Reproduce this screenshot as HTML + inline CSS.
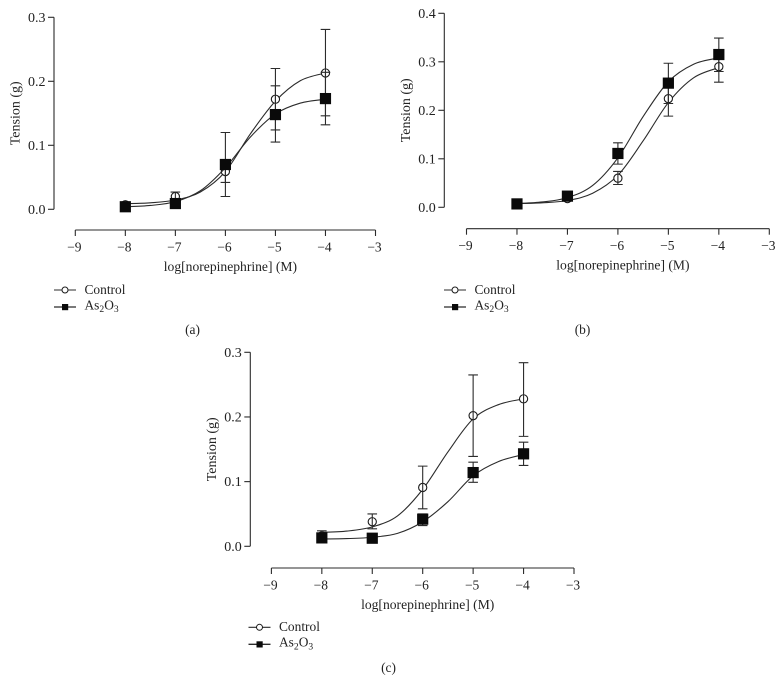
<!DOCTYPE html>
<html>
<head>
<meta charset="utf-8">
<title>Tension vs log[norepinephrine]</title>
<style>
html,body{margin:0;padding:0;background:#fff;width:780px;height:682px;overflow:hidden}
svg{display:block;filter:blur(0.3px)}
text{font-family:"Liberation Serif",serif;fill:#222}
</style>
</head>
<body>
<svg id="figure" xmlns="http://www.w3.org/2000/svg" width="780" height="682" viewBox="0 0 780 682"></svg>
<script>
// ----- shared axis data -----
const doses = [-8, -7, -6, -5, -4];
const xTicks = [-9, -8, -7, -6, -5, -4, -3];
const curveDoses = [-8, -7.5, -7, -6.5, -6, -5.5, -5, -4.5, -4];

// ----- panel (a) -----
const yTicksA = [0, 0.1, 0.2, 0.3];
const controlA = [0.007, 0.020, 0.059, 0.172, 0.213];
const controlUpperA = [0.010, 0.027, 0.076, 0.220, 0.281];
const controlLowerA = [0.004, 0.013, 0.042, 0.124, 0.146];
const arsenicA = [0.004, 0.009, 0.070, 0.148, 0.173];
const arsenicUpperA = [0.006, 0.012, 0.120, 0.193, 0.214];
const arsenicLowerA = [0.002, 0.006, 0.020, 0.105, 0.132];
const controlCurveA = [0.0087, 0.0101, 0.0145, 0.027, 0.059, 0.118, 0.169, 0.201, 0.213];
const arsenicCurveA = [0.004, 0.006, 0.012, 0.029, 0.065, 0.113, 0.149, 0.166, 0.172];

// ----- panel (b) -----
const yTicksB = [0, 0.1, 0.2, 0.3, 0.4];
const controlB = [0.007, 0.018, 0.060, 0.224, 0.290];
const controlUpperB = [0.010, 0.021, 0.074, 0.260, 0.312];
const controlLowerB = [0.004, 0.015, 0.047, 0.188, 0.258];
const arsenicB = [0.007, 0.023, 0.111, 0.256, 0.315];
const arsenicUpperB = [0.010, 0.027, 0.133, 0.297, 0.349];
const arsenicLowerB = [0.004, 0.019, 0.089, 0.214, 0.280];
const controlCurveB = [0.0077, 0.0093, 0.014, 0.029, 0.066, 0.137, 0.216, 0.267, 0.288];
const arsenicCurveB = [0.0077, 0.011, 0.020, 0.045, 0.102, 0.187, 0.259, 0.295, 0.308];

// ----- panel (c) -----
const yTicksC = [0, 0.1, 0.2, 0.3];
const controlC = [0.016, 0.038, 0.091, 0.202, 0.228];
const controlUpperC = [0.024, 0.050, 0.124, 0.265, 0.284];
const controlLowerC = [0.009, 0.027, 0.058, 0.139, 0.170];
const arsenicC = [0.013, 0.0125, 0.042, 0.114, 0.143];
const arsenicUpperC = [0.019, 0.017, 0.050, 0.130, 0.161];
const arsenicLowerC = [0.008, 0.009, 0.032, 0.099, 0.125];
const controlCurveC = [0.0215, 0.0235, 0.030, 0.047, 0.088, 0.146, 0.197, 0.219, 0.228];
const arsenicCurveC = [0.0113, 0.0119, 0.014, 0.020, 0.038, 0.069, 0.109, 0.131, 0.142];

const NS = 'http://www.w3.org/2000/svg';
const INK = '#2b2b2b';
const figure = document.getElementById('figure');

function make(tag, parent, props) {
  const el = document.createElementNS(NS, tag);
  for (const k in props) el.setAttribute(k, props[k]);
  parent.appendChild(el);
  return el;
}

function fmtX(v) { return '\u2212' + Math.abs(v); }

// Catmull-Rom smoothing through the sampled curve values
function smoothPath(pts) {
  let d = 'M' + pts[0][0].toFixed(2) + ' ' + pts[0][1].toFixed(2);
  for (let i = 0; i < pts.length - 1; i++) {
    const p0 = pts[Math.max(i - 1, 0)], p1 = pts[i], p2 = pts[i + 1], p3 = pts[Math.min(i + 2, pts.length - 1)];
    const c1x = p1[0] + (p2[0] - p0[0]) / 6, c1y = p1[1] + (p2[1] - p0[1]) / 6;
    const c2x = p2[0] - (p3[0] - p1[0]) / 6, c2y = p2[1] - (p3[1] - p1[1]) / 6;
    d += 'C' + c1x.toFixed(2) + ' ' + c1y.toFixed(2) + ' ' + c2x.toFixed(2) + ' ' + c2y.toFixed(2) + ' ' + p2[0].toFixed(2) + ' ' + p2[1].toFixed(2);
  }
  return d;
}

function drawPanel(cfg) {
  const L = cfg.layout;
  const xMin = xTicks[0], xMax = xTicks[xTicks.length - 1];
  const yMin = cfg.yTicks[0], yMax = cfg.yTicks[cfg.yTicks.length - 1];
  const sx = v => L.xLeft + (v - xMin) * (L.xRight - L.xLeft) / (xMax - xMin);
  const sy = v => L.yBottom - (v - yMin) * (L.yBottom - L.yTop) / (yMax - yMin);

  const panel = make('g', figure, {});
  
  

  // y axis
  const yAxis = make('g', panel, {});
  
  
  make('line', yAxis, {x1: L.yAxisX, x2: L.yAxisX, y1: sy(yMax), y2: sy(yMin), stroke: INK, 'stroke-width': 1.1});
  cfg.yTicks.forEach(t => {
    make('line', yAxis, {x1: L.yAxisX - 6, x2: L.yAxisX, y1: sy(t), y2: sy(t), stroke: INK, 'stroke-width': 1.1});
    const lab = make('text', yAxis, {x: L.yAxisX - 8.5, y: sy(t) + 4.6, 'text-anchor': 'end', 'font-size': 14});
    
    
    lab.textContent = t.toFixed(1);
  });
  const yTitle = make('text', yAxis, {
    transform: 'translate(' + (L.yAxisX - 34.5) + ' ' + ((sy(yMin) + sy(yMax)) / 2) + ') rotate(-90)',
    'text-anchor': 'middle', 'font-size': 14
  });
  
  
  yTitle.textContent = 'Tension (g)';

  // x axis
  const xAxis = make('g', panel, {});
  
  
  make('line', xAxis, {x1: sx(xMin), x2: sx(xMax), y1: L.xAxisY, y2: L.xAxisY, stroke: INK, 'stroke-width': 1.1});
  xTicks.forEach(t => {
    make('line', xAxis, {x1: sx(t), x2: sx(t), y1: L.xAxisY, y2: L.xAxisY + 6, stroke: INK, 'stroke-width': 1.1});
    const lab = make('text', xAxis, {x: sx(t) - 1, y: L.xAxisY + 21.5, 'text-anchor': 'middle', 'font-size': 13.5});
    
    
    lab.textContent = fmtX(t);
  });
  const xTitle = make('text', xAxis, {x: (sx(xMin) + sx(xMax)) / 2 + 5, y: L.xAxisY + 41, 'text-anchor': 'middle', 'font-size': 13.6});
  
  
  xTitle.textContent = 'log[norepinephrine] (M)';

  // series
  cfg.series.forEach(s => {
    const g = make('g', panel, {});
    
    

    const curve = make('path', g, {
      d: smoothPath(curveDoses.map((d, i) => [sx(d), sy(s.curve[i])])),
      fill: 'none', stroke: INK, 'stroke-width': 1.1
    });
    
    

    const drawMarkers = () => doses.forEach((d, i) => {
      const x = sx(d), y = sy(s.values[i]);
      if (s.key === 'control') {
        const c = make('circle', g, {cx: x, cy: y, r: 4.1, fill: '#fff', stroke: '#1a1a1a', 'stroke-width': 1.1});
        
        
      } else {
        const r = make('rect', g, {x: x - 5.6, y: y - 5.6, width: 11.2, height: 11.2, fill: '#0a0a0a'});
        
        
      }
    });
    const drawBars = () => doses.forEach((d, i) => {
      const x = sx(d);
      const err = make('path', g, {
        d: 'M' + x + ' ' + sy(s.upper[i]) + 'V' + sy(s.lower[i]) +
           'M' + (x - 4.8) + ' ' + sy(s.upper[i]) + 'H' + (x + 4.8) +
           'M' + (x - 4.8) + ' ' + sy(s.lower[i]) + 'H' + (x + 4.8),
        fill: 'none', stroke: INK, 'stroke-width': 1.1
      });
      
      
    });
    // Open circles show their bar through them; solid squares cover theirs.
    if (s.key === 'control') { drawMarkers(); drawBars(); }
    else { drawBars(); drawMarkers(); }
  });

  // legend
  const legend = make('g', panel, {});
  
  
  const lx = L.legendX, ly = L.legendY;

  const entry1 = make('g', legend, {});
  
  
  make('line', entry1, {x1: lx, x2: lx + 22, y1: ly, y2: ly, stroke: INK, 'stroke-width': 1.1});
  make('circle', entry1, {cx: lx + 11, cy: ly, r: 3, fill: '#fff', stroke: '#1a1a1a', 'stroke-width': 1});
  const t1 = make('text', entry1, {x: lx + 30.5, y: ly + 3.9, 'font-size': 13.4});
  t1.textContent = 'Control';

  const entry2 = make('g', legend, {});
  
  
  make('line', entry2, {x1: lx, x2: lx + 22, y1: ly + 17, y2: ly + 17, stroke: INK, 'stroke-width': 1.3});
  make('rect', entry2, {x: lx + 8, y: ly + 14, width: 6.2, height: 6.2, fill: '#0a0a0a'});
  const t2 = make('text', entry2, {x: lx + 30.5, y: ly + 19.4, 'font-size': 13.4});
  t2.appendChild(document.createTextNode('As'));
  const sub1 = make('tspan', t2, {dy: 2.8, 'font-size': 9.6});
  sub1.textContent = '2';
  const mid = make('tspan', t2, {dy: -2.8});
  mid.textContent = 'O';
  const sub2 = make('tspan', t2, {dy: 2.8, 'font-size': 9.6});
  sub2.textContent = '3';

  // caption
  const cap = make('text', panel, {x: L.captionX, y: L.captionY, 'text-anchor': 'middle', 'font-size': 13.4});
  
  
  cap.textContent = '(' + cfg.id + ')';
}

drawPanel({
  id: 'a', yTicks: yTicksA,
  layout: {yAxisX: 54, yTop: 17.3, yBottom: 209.3, xAxisY: 230, xLeft: 75.3, xRight: 375.5, legendX: 54, legendY: 290, captionX: 192.5, captionY: 334},
  series: [
    {key: 'control', values: controlA, upper: controlUpperA, lower: controlLowerA, curve: controlCurveA},
    {key: 'as2o3', values: arsenicA, upper: arsenicUpperA, lower: arsenicLowerA, curve: arsenicCurveA}
  ]
});
drawPanel({
  id: 'b', yTicks: yTicksB,
  layout: {yAxisX: 444.3, yTop: 13.3, yBottom: 207.3, xAxisY: 228.7, xLeft: 466.5, xRight: 769.3, legendX: 444, legendY: 290, captionX: 582.5, captionY: 334},
  series: [
    {key: 'control', values: controlB, upper: controlUpperB, lower: controlLowerB, curve: controlCurveB},
    {key: 'as2o3', values: arsenicB, upper: arsenicUpperB, lower: arsenicLowerB, curve: arsenicCurveB}
  ]
});
drawPanel({
  id: 'c', yTicks: yTicksC,
  layout: {yAxisX: 250.3, yTop: 352.3, yBottom: 546.3, xAxisY: 568, xLeft: 271.4, xRight: 574, legendX: 248.5, legendY: 627.3, captionX: 388.5, captionY: 672},
  series: [
    {key: 'control', values: controlC, upper: controlUpperC, lower: controlLowerC, curve: controlCurveC},
    {key: 'as2o3', values: arsenicC, upper: arsenicUpperC, lower: arsenicLowerC, curve: arsenicCurveC}
  ]
});
</script>
</body>
</html>
